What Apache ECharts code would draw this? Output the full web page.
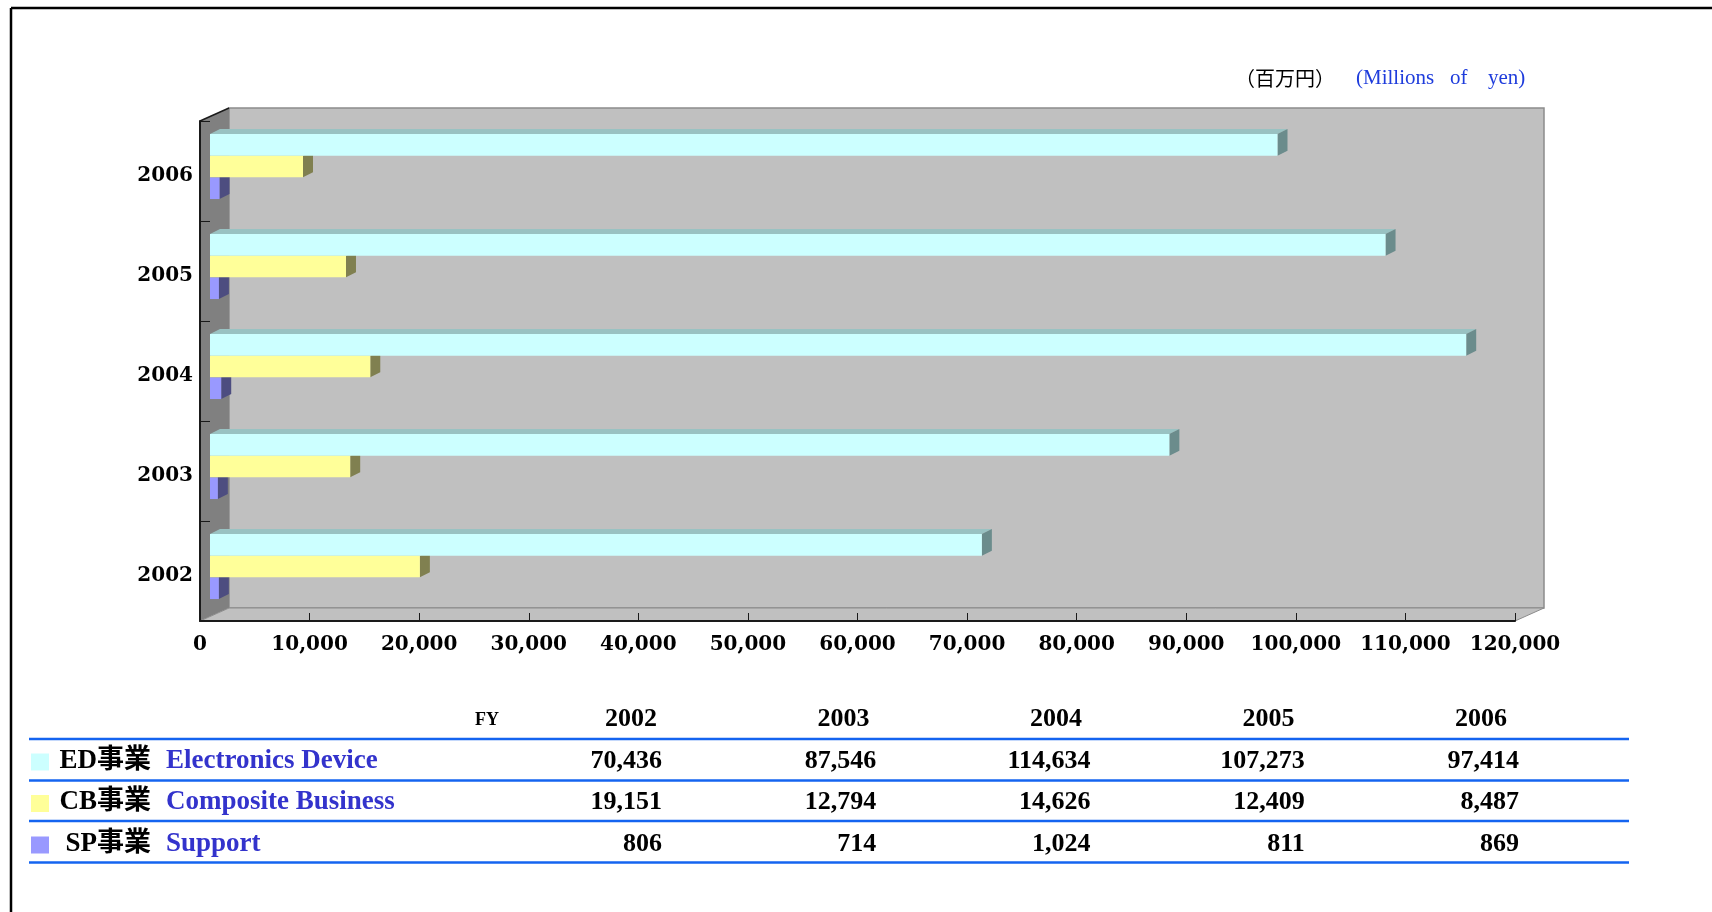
<!DOCTYPE html>
<html>
<head>
<meta charset="utf-8">
<title>事業別売上高</title>
<script src="https://cdn.jsdelivr.net/npm/echarts@6/dist/echarts.min.js"></script>
<style>
  html, body { margin: 0; padding: 0; background: #fff; }
  #main { width: 1712px; height: 912px; }
</style>
</head>
<body>
<div id="main"></div>
<script type="text/javascript">
// data
var years = ['2002', '2003', '2004', '2005', '2006'];
var edSales = [70436, 87546, 114634, 107273, 97414];
var cbSales = [19151, 12794, 14626, 12409, 8487];
var spSales = [806, 714, 1024, 811, 869];
var segCodes = ['ED事業', 'CB事業', 'SP事業'];
var segNames = ['Electronics Device', 'Composite Business', 'Support'];
var xMax = 120000, xStep = 10000;

// layout of the 3d box
var GL = 200, GT = 121, GW = 1315, GH = 500, DX = 29, DY = -13;
var OX = 10, OY = -4.5, EX = 10, EY = -5;

var faces = [
  ['#CCFFFF', '#99C2C2', '#6B8C8C'],
  ['#FFFF99', '#C2C273', '#808050'],
  ['#9999FF', '#7373C2', '#4D4D80']
];

var myChart = echarts.init(document.getElementById('main'));

function bar3d(slot) {
  var f = faces[slot];
  return function (params, api) {
    var v = api.value(0), c = api.value(1);
    var p0 = api.coord([0, c]);
    var p1 = api.coord([v, c]);
    var band = api.size([0, 1])[1];
    var h = band * 0.217;
    var y0 = p0[1] - 1.5 * h + slot * h + OY, y1 = y0 + h;
    var x0 = p0[0] + OX, x1 = p1[0] + OX;
    return {
      type: 'group',
      children: [
        { type: 'polygon', shape: { points: [[x0, y0], [x0 + EX, y0 + EY], [x1 + EX, y0 + EY], [x1, y0]] }, style: { fill: f[1] } },
        { type: 'polygon', shape: { points: [[x1, y0], [x1 + EX, y0 + EY], [x1 + EX, y1 + EY], [x1, y1]] }, style: { fill: f[2] } },
        { type: 'rect', shape: { x: x0, y: y0, width: x1 - x0, height: h }, style: { fill: f[0] } }
      ]
    };
  };
}

function pairs(arr) {
  return arr.map(function (v, i) { return [v, i]; });
}

function fmt(n) {
  return n.toString().replace(/\B(?=(\d{3})+(?!\d))/g, ',');
}

// walls, frame, unit text
var gfx = [
  { type: 'line', shape: { x1: 11, y1: 8, x2: 1712, y2: 8 }, style: { stroke: '#000', lineWidth: 2.5 } },
  { type: 'line', shape: { x1: 11, y1: 8, x2: 11, y2: 912 }, style: { stroke: '#000', lineWidth: 2.5 } },
  { type: 'rect', shape: { x: GL + DX, y: GT + DY, width: GW, height: GH }, style: { fill: '#C0C0C0', stroke: '#8C8C8C', lineWidth: 1.5 } },
  { type: 'polygon', shape: { points: [[GL, GT], [GL + DX, GT + DY], [GL + DX, GT + GH + DY], [GL, GT + GH]] }, style: { fill: '#808080' } },
  { type: 'polygon', shape: { points: [[GL, GT + GH], [GL + DX, GT + GH + DY], [GL + GW + DX, GT + GH + DY], [GL + GW, GT + GH]] }, style: { fill: '#C0C0C0', stroke: '#8C8C8C', lineWidth: 1 } },
  { type: 'line', shape: { x1: GL, y1: GT, x2: GL + DX, y2: GT + DY }, style: { stroke: '#1a1a1a', lineWidth: 1.5 } },
  { type: 'text', style: { text: '（百万円）', x: 1235, y: 78, font: '20px "Noto Sans CJK JP"', fill: '#000', verticalAlign: 'middle' } },
  { type: 'text', style: { text: '(Millions', x: 1356, y: 78, font: '21px "Liberation Serif"', fill: '#1E3CDC', verticalAlign: 'middle' } },
  { type: 'text', style: { text: 'of', x: 1450, y: 78, font: '21px "Liberation Serif"', fill: '#1E3CDC', verticalAlign: 'middle' } },
  { type: 'text', style: { text: 'yen)', x: 1488, y: 78, font: '21px "Liberation Serif"', fill: '#1E3CDC', verticalAlign: 'middle' } }
];

// table below the chart
var tblFont = 'bold 26px "Liberation Serif", "Noto Sans CJK JP"';
var lineYs = [739, 780.5, 821, 862.5];
var rowYs = [761, 802.5, 844];
var hdrX0 = 631, hdrStep = 212.5, colR0 = 662, colStep = 214.25;
var rows = [edSales, cbSales, spSales];

lineYs.forEach(function (y) {
  gfx.push({ type: 'line', shape: { x1: 29, y1: y, x2: 1629, y2: y }, style: { stroke: '#1464F0', lineWidth: 2.5 } });
});
gfx.push({ type: 'text', style: { text: 'FY', x: 487, y: 720, font: 'bold 18px "Liberation Serif"', fill: '#000', align: 'center', verticalAlign: 'middle' } });
years.forEach(function (yr, i) {
  gfx.push({ type: 'text', style: { text: yr, x: hdrX0 + i * hdrStep, y: 719, font: tblFont, fill: '#000', align: 'center', verticalAlign: 'middle' } });
});
rows.forEach(function (arr, r) {
  var y = rowYs[r];
  gfx.push({ type: 'rect', shape: { x: 31, y: y - 7.5, width: 18, height: 17 }, style: { fill: faces[r][0] } });
  gfx.push({ type: 'text', style: { text: segCodes[r], x: 151, y: y, font: 'bold 27px "Liberation Serif", "Noto Sans CJK JP"', fill: '#000', align: 'right', verticalAlign: 'middle' } });
  gfx.push({ type: 'text', style: { text: segNames[r], x: 166, y: y, font: 'bold 27px "Liberation Serif"', fill: '#3333CC', align: 'left', verticalAlign: 'middle' } });
  arr.forEach(function (v, i) {
    gfx.push({ type: 'text', style: { text: fmt(v), x: colR0 + i * colStep, y: y, font: tblFont, fill: '#000', align: 'right', verticalAlign: 'middle' } });
  });
});

var axisFont = { fontFamily: '"DejaVu Serif"', fontWeight: 'bold', fontSize: 20, color: '#000' };

var option = {
  animation: false,
  backgroundColor: '#fff',
  graphic: { elements: gfx },
  grid: { left: GL, top: GT, width: GW, height: GH, containLabel: false, outerBoundsMode: 'none' },
  xAxis: {
    type: 'value', min: 0, max: xMax, interval: xStep,
    axisLine: { show: true, lineStyle: { color: '#1a1a1a', width: 2 } },
    axisTick: { show: true, inside: true, length: 8, lineStyle: { color: '#1a1a1a', width: 1 } },
    axisLabel: Object.assign({ margin: 14, showMinLabel: true, showMaxLabel: true, formatter: fmt }, axisFont),
    splitLine: { show: false },
    z: 10
  },
  yAxis: {
    type: 'category', data: years,
    axisLine: { show: true, lineStyle: { color: '#1a1a1a', width: 2 } },
    axisTick: { show: true, inside: true, length: 10, lineStyle: { color: '#1a1a1a', width: 1 } },
    axisLabel: {
      margin: 7,
      formatter: '{a|{value}}',
      rich: { a: Object.assign({ padding: [9, 0, 0, 0] }, axisFont) }
    },
    splitLine: { show: false },
    z: 10
  },
  series: [
    { name: 'ED', type: 'custom', renderItem: bar3d(0), data: pairs(edSales), encode: { x: 0, y: 1 }, z: 7 },
    { name: 'CB', type: 'custom', renderItem: bar3d(1), data: pairs(cbSales), encode: { x: 0, y: 1 }, z: 6 },
    { name: 'SP', type: 'custom', renderItem: bar3d(2), data: pairs(spSales), encode: { x: 0, y: 1 }, z: 5 }
  ]
};

myChart.setOption(option);
</script>
</body>
</html>
